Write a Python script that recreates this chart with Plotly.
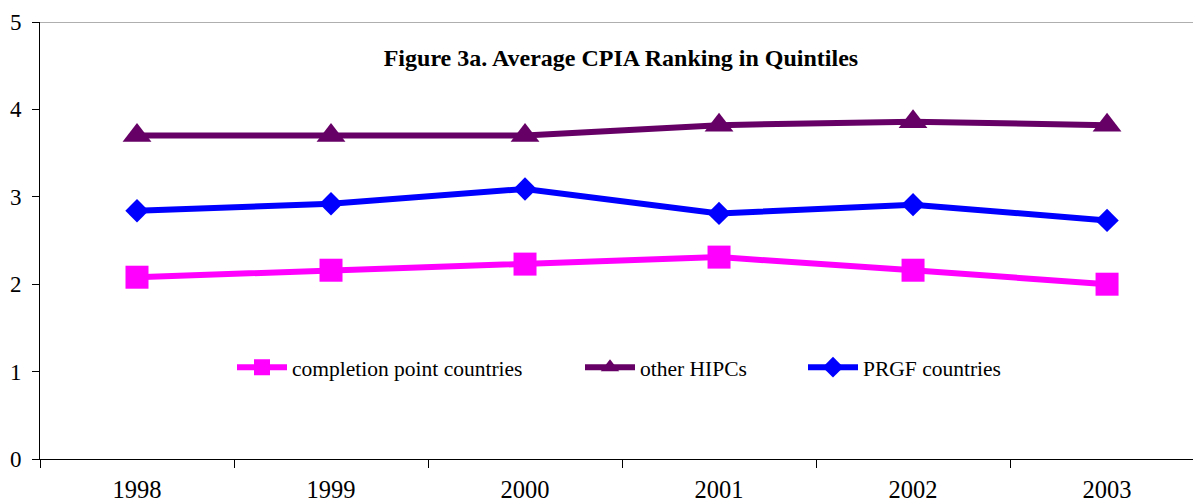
import plotly.graph_objects as go

years = ["1998", "1999", "2000", "2001", "2002", "2003"]
completion = [2.08, 2.16, 2.23, 2.31, 2.16, 2.00]
other_hipcs = [3.70, 3.70, 3.70, 3.82, 3.86, 3.82]
prgf = [2.84, 2.92, 3.09, 2.81, 2.91, 2.73]

FONT = "Liberation Serif"

fig = go.Figure()
fig.add_trace(go.Scatter(x=years, y=completion, name="completion point countries",
                         mode="lines+markers", line=dict(color="#FF00FF", width=6),
                         marker=dict(symbol="square", size=23, color="#FF00FF"),
                         legend="legend", showlegend=True))
fig.add_trace(go.Scatter(x=years, y=other_hipcs, name="other HIPCs",
                         mode="lines+markers", line=dict(color="#660066", width=6),
                         marker=dict(symbol="triangle-up", size=25, color="#660066"),
                         legend="legend2", showlegend=True))
fig.add_trace(go.Scatter(x=years, y=prgf, name="PRGF countries",
                         mode="lines+markers", line=dict(color="#0000FF", width=6),
                         marker=dict(symbol="diamond", size=18, color="#0000FF"),
                         legend="legend3", showlegend=True))

def leg(x):
    return dict(font=dict(family=FONT, size=21.5, color="black"), bgcolor="rgba(0,0,0,0)",
                yanchor="middle", xanchor="left", y=0.21, x=x, itemwidth=50,
                orientation="h", borderwidth=0)

fig.update_layout(
    width=1193, height=504,
    margin=dict(l=40, r=0, t=22, b=45),
    plot_bgcolor="white", paper_bgcolor="white",
    showlegend=True,
    font=dict(family=FONT, size=22, color="black"),
    title=dict(text="<b>Figure 3a. Average CPIA Ranking in Quintiles</b>",
               x=0.5205, xanchor="center", y=0.885, yanchor="middle",
               font=dict(family=FONT, size=24, color="black")),
    legend=leg((232 - 40) / 1153),
    legend2=leg((580 - 40) / 1153),
    legend3=leg((803 - 40) / 1153),
    xaxis=dict(type="category", range=[-0.5, 5.443], showgrid=False,
               showline=True, linecolor="black", linewidth=1,
               ticks="outside", tickson="boundaries", ticklen=8, tickcolor="black",
               ticklabelstandoff=9, tickfont=dict(family=FONT, size=24.5)),
    yaxis=dict(range=[0, 5], tickvals=[0, 1, 2, 3, 4, 5], showgrid=False,
               zeroline=False, showline=True, linecolor="black", linewidth=1,
               ticks="outside", ticklen=7, tickcolor="black",
               ticklabelstandoff=6, tickfont=dict(family=FONT, size=23)),
    shapes=[dict(type="line", xref="paper", yref="y", x0=0, x1=1, y0=5, y1=5,
                 line=dict(color="#606060", width=1))],
)

fig.write_html("out.html", config={"displayModeBar": False},
               post_script="document.body.style.margin='0';")
